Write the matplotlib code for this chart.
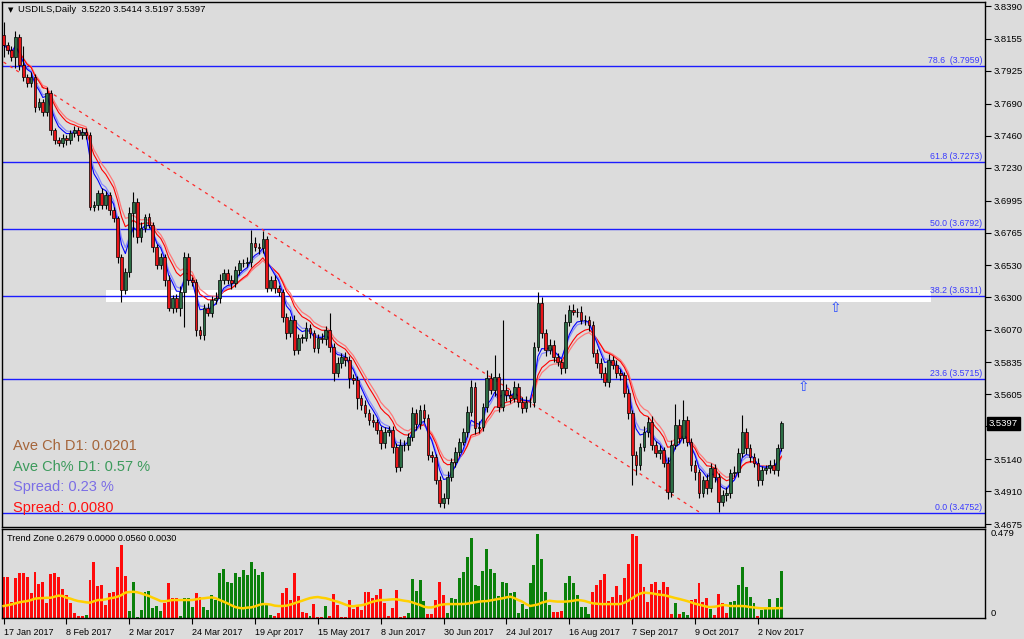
import numpy as np
import pandas as pd
import matplotlib
matplotlib.use("Agg")
import matplotlib.pyplot as plt
import matplotlib.transforms as mtransforms
from matplotlib.patches import Rectangle

plt.rcParams['font.family'] = ['Liberation Sans', 'DejaVu Sans']

# --- data --------------------------------------------------------------
title_text = "USDILS,Daily  3.5220 3.5414 3.5197 3.5397"
first_open = 3.8180

closes = [
    3.8110, 3.8074, 3.8024, 3.8168, 3.7967, 3.7881, 3.7838, 3.7881, 3.7666, 3.7702,
    3.7630, 3.7766, 3.7501, 3.7429, 3.7408, 3.7444, 3.7429, 3.7479, 3.7501, 3.7465,
    3.7487, 3.7465, 3.6949, 3.6963, 3.7049, 3.6963, 3.7035, 3.6927, 3.6870, 3.6590,
    3.6354, 3.6483, 3.6906, 3.6985, 3.6734, 3.6798, 3.6877, 3.6820, 3.6662, 3.6533,
    3.6590, 3.6425, 3.6225, 3.6296, 3.6225, 3.6339, 3.6590, 3.6425, 3.6411, 3.6067,
    3.6031, 3.6225, 3.6189, 3.6282, 3.6296, 3.6425, 3.6476, 3.6425, 3.6404, 3.6497,
    3.6547, 3.6547, 3.6555, 3.6691, 3.6662, 3.6655, 3.6719, 3.6368, 3.6425, 3.6368,
    3.6339, 3.6160, 3.6045, 3.6139, 3.5924, 3.6010, 3.6010, 3.6081, 3.6045, 3.5938,
    3.6010, 3.6002, 3.6067, 3.5945, 3.5759, 3.5830, 3.5873, 3.5852, 3.5723, 3.5708,
    3.5579, 3.5529, 3.5472, 3.5422, 3.5407, 3.5350, 3.5257, 3.5336, 3.5350, 3.5228,
    3.5085, 3.5242, 3.5242, 3.5300, 3.5472, 3.5393, 3.5493, 3.5436, 3.5171, 3.5156,
    3.4991, 3.4827, 3.4862, 3.5013, 3.5120, 3.5192, 3.5264, 3.5336, 3.5479, 3.5658,
    3.5364, 3.5371, 3.5515, 3.5723, 3.5637, 3.5730, 3.5515, 3.5637, 3.5601, 3.5579,
    3.5658, 3.5551, 3.5508, 3.5551, 3.5551, 3.5945, 3.6261, 3.6045, 3.5924, 3.5959,
    3.5873, 3.5837, 3.5794, 3.6124, 3.6210, 3.6196, 3.6196, 3.6139, 3.6139, 3.6103,
    3.5902, 3.5830, 3.5759, 3.5694, 3.5852, 3.5816, 3.5759, 3.5744, 3.5615, 3.5472,
    3.5171, 3.5099, 3.5228, 3.5336, 3.5407, 3.5242, 3.5185, 3.5206, 3.5113, 3.4905,
    3.5242, 3.5386, 3.5293, 3.5422, 3.5264, 3.5099, 3.5049, 3.4898, 3.4991, 3.4934,
    3.5077, 3.5013, 3.4834, 3.4884, 3.4898, 3.5042, 3.5049, 3.5185, 3.5336, 3.5221,
    3.5156, 3.5113, 3.4991, 3.5063, 3.5077, 3.5099, 3.5063, 3.5220, 3.5397,
]

# wick lengths above / below the body, in pips (0.0001)
wick_up = [
    95, 20, 30, 45, 25, 140, 20, 35, 25, 30,
    20, 40, 25, 15, 20, 30, 20, 25, 30, 20,
    25, 30, 20, 30, 25, 35, 30, 20, 25, 15,
    20, 25, 40, 70, 30, 45, 25, 30, 20, 25,
    30, 20, 35, 25, 30, 40, 35, 30, 25, 20,
    30, 25, 35, 30, 40, 45, 30, 25, 35, 30,
    25, 30, 35, 90, 40, 30, 60, 25, 30, 35,
    20, 25, 30, 25, 35, 30, 25, 40, 30, 25,
    30, 35, 30, 120, 25, 40, 30, 35, 25, 30,
    30, 25, 35, 30, 40, 25, 30, 35, 30, 25,
    30, 40, 35, 25, 45, 30, 35, 40, 25, 30,
    25, 30, 35, 40, 30, 35, 30, 25, 40, 50,
    35, 40, 30, 60, 35, 160, 30, 500, 40, 35,
    45, 30, 35, 40, 30, 35, 80, 45, 30, 40,
    35, 30, 25, 60, 35, 40, 30, 45, 35, 30,
    25, 30, 35, 40, 45, 30, 35, 30, 25, 30,
    20, 25, 30, 45, 35, 40, 30, 35, 25, 40,
    35, 150, 40, 140, 30, 25, 35, 20, 30, 40,
    35, 30, 25, 35, 40, 30, 45, 35, 120, 30,
    25, 30, 35, 30, 25, 35, 40, 30, 17,
]
wick_dn = [
    85, 25, 30, 80, 35, 30, 25, 30, 35, 25,
    30, 25, 35, 30, 25, 30, 35, 30, 25, 40,
    30, 25, 20, 30, 35, 25, 30, 35, 30, 40,
    90, 30, 35, 170, 40, 35, 30, 25, 35, 30,
    30, 40, 25, 35, 30, 60, 250, 35, 30, 40,
    30, 35, 25, 30, 30, 35, 25, 30, 40, 30,
    35, 30, 25, 35, 30, 40, 35, 30, 25, 35,
    30, 35, 40, 30, 35, 30, 40, 25, 35, 30,
    35, 30, 40, 35, 60, 30, 35, 40, 70, 30,
    80, 35, 30, 40, 35, 30, 45, 35, 30, 40,
    35, 30, 40, 35, 30, 45, 35, 30, 40, 35,
    30, 30, 35, 40, 30, 35, 30, 25, 35, 30,
    40, 35, 30, 35, 30, 45, 35, 30, 40, 35,
    30, 40, 35, 30, 35, 40, 30, 35, 45, 30,
    35, 30, 40, 35, 30, 25, 35, 30, 35, 40,
    30, 35, 40, 30, 35, 30, 40, 35, 30, 40,
    215, 70, 35, 30, 40, 35, 30, 45, 30, 50,
    35, 30, 40, 35, 30, 40, 60, 35, 30, 40,
    30, 35, 70, 30, 40, 35, 30, 35, 30, 40,
    35, 30, 40, 35, 30, 35, 30, 40, 23,
]

date_index = [0, 16, 32, 48, 64, 80, 96, 112, 128, 144, 160, 176, 192]
date_labels = ["17 Jan 2017", "8 Feb 2017", "2 Mar 2017", "24 Mar 2017",
               "19 Apr 2017", "15 May 2017", "8 Jun 2017", "30 Jun 2017",
               "24 Jul 2017", "16 Aug 2017", "7 Sep 2017", "9 Oct 2017",
               "2 Nov 2017"]

price_ticks = [3.8390, 3.8155, 3.7925, 3.7690, 3.7460, 3.7230, 3.6995, 3.6765,
               3.6530, 3.6300, 3.6070, 3.5835, 3.5605, 3.5375, 3.5140, 3.4910,
               3.4675]
hidden_tick = 3.5375   # covered by the current-price box in the reference

fib_levels = [3.7959, 3.7273, 3.6792, 3.6311, 3.5715, 3.4752]
fib_labels = ["78.6  (3.7959)", "61.8 (3.7273)", "50.0 (3.6792)",
              "38.2 (3.6311)", "23.6 (3.5715)", "0.0 (3.4752)"]

trend_line_x = [0, 177.4]
trend_line_y = [3.7988, 3.4755]

zone_x = [26, 236]
zone_y = [3.6268, 3.6354]

arrow_x = [211.7, 203.6]
arrow_y = [3.6225, 3.5658]

info_texts = ["Ave Ch D1: 0.0201", "Ave Ch% D1: 0.57 %", "Spread: 0.23 %", "Spread: 0.0080"]
info_colors = ["#a5653a", "#3c9a5c", "#7b6ee6", "#ff1010"]

# Trend Zone histogram: positive = green bar, negative = red bar
trend_zone = [
    -0.234, -0.231, -0.093, -0.225, -0.253, -0.253, -0.234, -0.140, -0.263, -0.193,
    -0.206, -0.083, -0.249, -0.257, -0.231, -0.163, -0.130, -0.087, -0.030, -0.011,
    -0.011, 0.017, -0.215, -0.316, -0.181, -0.187, -0.074, -0.144, -0.149, -0.287,
    -0.414, -0.238, 0.042, 0.202, 0.004, 0.045, 0.149, 0.155, 0.055, 0.068,
    0.042, -0.087, -0.197, -0.112, -0.112, 0.011, 0.112, 0.112, 0.064, -0.140,
    -0.117, 0.064, 0.045, 0.130, 0.102, 0.257, 0.276, 0.206, 0.200, 0.253,
    0.234, 0.272, 0.244, 0.319, 0.276, 0.244, 0.263, 0.074, 0.017, -0.011,
    -0.026, -0.140, -0.168, -0.102, -0.257, -0.125, -0.036, -0.026, 0.011, -0.079,
    -0.004, -0.004, 0.068, -0.011, -0.136, -0.074, -0.004, -0.004, -0.102,
    -0.049, -0.068, -0.045, -0.146, -0.146, -0.112, -0.130, -0.163, -0.087, -0.011,
    -0.059, -0.159, -0.004, -0.011, 0.030, 0.219, 0.153, 0.215, 0.098, -0.021,
    -0.021, -0.102, -0.202, -0.130, 0.026, 0.115, 0.108, 0.225, 0.263, 0.348,
    0.452, 0.187, 0.181, 0.266, 0.391, 0.278, 0.253, 0.127, 0.202, 0.197,
    0.140, 0.149, 0.030, 0.079, 0.049, 0.200, 0.301, 0.474, 0.333, 0.149,
    0.076, -0.036, -0.036, -0.042, 0.197, 0.238, 0.197, 0.130, 0.064, 0.064,
    0.021, -0.149, -0.187, -0.215, -0.248, -0.096, -0.121, -0.181, -0.130, -0.225,
    -0.306, -0.476, -0.465, -0.304, -0.178, -0.093, -0.193, -0.206, -0.159, -0.202,
    -0.174, -0.021, 0.087, -0.023, 0.036, 0.017, -0.102, -0.106, -0.200, -0.093,
    -0.112, 0.049, -0.017, -0.136, -0.083, -0.030, 0.093, 0.098, 0.187, 0.287,
    0.174, 0.121, 0.083, -0.011, 0.045, 0.049, 0.106, 0.049, 0.115, 0.2679,
]
trend_avg = [
    0.068, 0.072, 0.077, 0.083, 0.089, 0.093, 0.096, 0.102, 0.110, 0.112,
    0.113, 0.115, 0.115, 0.121, 0.127, 0.125, 0.115, 0.110, 0.102, 0.096,
    0.093, 0.089, 0.087, 0.095, 0.102, 0.102, 0.106, 0.112, 0.115, 0.121,
    0.130, 0.144, 0.147, 0.149, 0.146, 0.140, 0.132, 0.125, 0.115, 0.106,
    0.096, 0.095, 0.098, 0.102, 0.102, 0.102, 0.102, 0.102, 0.102, 0.106,
    0.110, 0.112, 0.115, 0.117, 0.112, 0.102, 0.093, 0.083, 0.072, 0.062,
    0.057, 0.055, 0.059, 0.060, 0.066, 0.074, 0.079, 0.079, 0.076, 0.070,
    0.068, 0.068, 0.070, 0.076, 0.083, 0.091, 0.098, 0.106, 0.113, 0.117,
    0.119, 0.115, 0.112, 0.106, 0.098, 0.093, 0.085, 0.076, 0.068,
    0.066, 0.070, 0.072, 0.077, 0.085, 0.093, 0.098, 0.102, 0.102, 0.104,
    0.106, 0.106, 0.102, 0.098, 0.095, 0.089, 0.081, 0.074, 0.064, 0.060,
    0.060, 0.066, 0.074, 0.077, 0.079, 0.079, 0.079, 0.079, 0.079, 0.081,
    0.085, 0.089, 0.093, 0.095, 0.096, 0.100, 0.104, 0.108, 0.112, 0.117,
    0.121, 0.113, 0.102, 0.093, 0.079, 0.068, 0.072, 0.077, 0.087, 0.093,
    0.098, 0.095, 0.093, 0.093, 0.093, 0.095, 0.098, 0.102, 0.100, 0.096,
    0.089, 0.083, 0.081, 0.079, 0.079, 0.079, 0.079, 0.079, 0.079, 0.087,
    0.098, 0.112, 0.127, 0.138, 0.144, 0.142, 0.140, 0.136, 0.132, 0.130,
    0.125, 0.119, 0.113, 0.108, 0.102, 0.096, 0.089, 0.081, 0.076, 0.070,
    0.064, 0.062, 0.064, 0.068, 0.074, 0.072, 0.068, 0.068, 0.068, 0.068,
    0.066, 0.062, 0.060, 0.057, 0.055, 0.055, 0.055, 0.055, 0.056, 0.056,
]
zone_title = "Trend Zone 0.2679 0.0000 0.0560 0.0030"

# --- figure ------------------------------------------------------------
BG = "#dcdcdc"
W, H = 1024, 639
fig = plt.figure(figsize=(W / 100, H / 100), dpi=100, facecolor=BG)

def px_box(x0, y0, x1, y1):
    return [x0 / W, 1 - y1 / H, (x1 - x0) / W, (y1 - y0) / H]

ax = fig.add_axes(px_box(2, 2, 985, 527), facecolor=BG)
ax2 = fig.add_axes(px_box(2, 529, 985, 618), facecolor=BG)

c = np.array(closes)
o = np.r_[first_open, c[:-1]]
x = np.arange(len(c))
hi = np.maximum(o, c) + np.array(wick_up) / 1e4
lo = np.minimum(o, c) - np.array(wick_dn) / 1e4
bull = c >= o

# fib levels, zone box, trend line
ax.add_patch(Rectangle((zone_x[0], zone_y[0]), zone_x[1] - zone_x[0], zone_y[1] - zone_y[0],
                       facecolor="white", edgecolor="none", zorder=1))
for lvl, lab in zip(fib_levels, fib_labels):
    ax.axhline(lvl, color="#1c1cff", lw=1.0, zorder=2)
    ax.annotate(lab, xy=(1, lvl), xycoords=("axes fraction", "data"),
                xytext=(-2, 0.8), textcoords="offset points", ha="right", va="bottom",
                fontsize=6.3, color="#3a3aff", zorder=6)
ax.plot(trend_line_x, trend_line_y, color="#ff2a2a", lw=0.9, ls=(0, (2.5, 3.5)), zorder=3)

# moving averages
s = pd.Series(c)
ax.plot(x, s.ewm(span=12).mean(), color="#ff7878", lw=0.9, zorder=3)
ax.plot(x, s.ewm(span=10).mean(), color="#ff0000", lw=0.8, zorder=3)
ax.plot(x, s.ewm(span=6).mean(), color="#8888ff", lw=0.9, zorder=3)
ax.plot(x, s.ewm(span=5).mean(), color="#0000ff", lw=0.8, zorder=3)

# candles
ax.vlines(x, lo, hi, color="black", lw=0.8, zorder=4)
body_h = np.maximum(np.abs(c - o), 0.0003)
ax.bar(x, body_h, bottom=np.minimum(o, c), width=0.7,
       color=np.where(bull, "#2c6e45", "#e81418"), edgecolor="black", lw=0.5, zorder=5)

for ax_, ay_ in zip(arrow_x, arrow_y):
    ax.text(ax_, ay_, "\u21e7", color="#2a4cff", fontsize=10, ha="center", va="center",
            family="DejaVu Sans", zorder=6)

ax.set_xlim(-0.4, 249.8)
ax.set_ylim(3.4654, 3.8419)
ax.yaxis.tick_right()
ax.set_yticks(price_ticks)
ax.set_yticklabels(["" if t == hidden_tick else f"{t:.4f}" for t in price_ticks])
ax.tick_params(axis="y", direction="out", length=4, width=0.8, pad=2, labelsize=6.8)
ax.tick_params(axis="x", bottom=False, labelbottom=False)
for sp in ax.spines.values():
    sp.set_color("black")
    sp.set_linewidth(1)

# current price box
trans = mtransforms.blended_transform_factory(ax.transAxes, ax.transData)
ax.text(1.004, c[-1], f"{c[-1]:.4f}", transform=trans, color="white", fontsize=6.8,
        ha="left", va="center", zorder=10, clip_on=False,
        bbox=dict(facecolor="black", edgecolor="black", pad=1.3))

# info block
for k, (txt, col) in enumerate(zip(info_texts, info_colors)):
    fig.text(13 / W, 1 - (446 + 20.7 * k) / H, txt, color=col, fontsize=10.5,
             ha="left", va="center")

fig.text(8 / W, 1 - 10 / H, "\u25bc", fontsize=5, family="DejaVu Sans", va="center")
fig.text(18 / W, 1 - 10 / H, title_text, fontsize=6.8, va="center")

# --- Trend Zone pane ---------------------------------------------------
tz = np.array(trend_zone)
ax2.bar(x, np.abs(tz), width=0.75, color=np.where(tz > 0, "#0a800a", "#ff0a0a"),
        edgecolor="none", zorder=2)
ax2.plot(x, trend_avg, color="#ffd000", lw=1.8, zorder=3)
ax2.set_xlim(-0.4, 249.8)
ax2.set_ylim(0, 0.505)
ax2.set_yticks([])
ax2.set_xticks(date_index)
ax2.set_xticklabels(date_labels, ha="left")
ax2.tick_params(axis="x", direction="out", length=4, width=0.8, pad=3, labelsize=6.5)
for sp in ax2.spines.values():
    sp.set_color("black")
    sp.set_linewidth(1)
trans2 = mtransforms.blended_transform_factory(ax2.transAxes, ax2.transData)
ax2.text(1.006, 0.479, "0.479", transform=trans2, fontsize=6.8, va="center", ha="left")
ax2.text(1.006, 0.0, "0", transform=trans2, fontsize=6.8, va="bottom", ha="left")
ax2.text(0.005, 0.94, zone_title, transform=ax2.transAxes, fontsize=6.6, va="top", ha="left")

fig.savefig("out.png", dpi=100, facecolor=BG)
